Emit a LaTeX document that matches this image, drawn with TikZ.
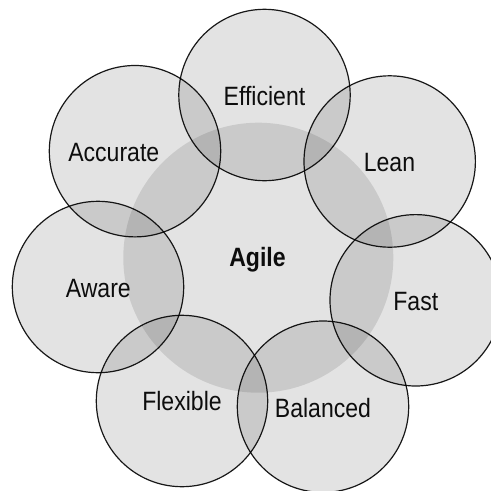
\documentclass[tikz,border=0pt]{standalone}
\usepackage{fontspec}
\setmainfont{Liberation Sans}[FakeStretch=0.87]
\begin{document}
\begin{tikzpicture}[x=1pt,y=-1pt,
  core/.style={circle,fill=black,fill opacity=0.11,draw=none,
    minimum size=270pt,inner sep=0pt},
  petal/.style={circle,fill=black,fill opacity=0.11,draw=black,draw opacity=0.9,
    line width=1.2pt,minimum size=171.4pt,inner sep=0pt},
  lbl/.style={anchor=base,inner sep=0pt,text=black!95,
    font=\fontsize{26.5}{30}\selectfont},
  hub/.style={lbl,font=\fontsize{26.5}{30}\selectfont\bfseries}]
  \useasboundingbox (0,0) rectangle (491,491);
  % central disc
  \node[core] (agile) at (258.3,257.7) {};
  % surrounding circles
  \node[petal] (efficient) at (264.5,95.0) {};
  \node[petal] (lean)      at (389.7,161.5) {};
  \node[petal] (fast)      at (415.7,300.3) {};
  \node[petal] (balanced)  at (323.0,406.7) {};
  \node[petal] (flexible)  at (182.0,401.0) {};
  \node[petal] (aware)     at (98.0,287.0) {};
  \node[petal] (accurate)  at (135.0,151.2) {};
  % labels
  \node[hub] (tagile)     at (257.5,266.0) {Agile};
  \node[lbl] (tefficient) at (264.5,105.5) {Efficient};
  \node[lbl] (tlean)      at (389.5,171.7) {Lean};
  \node[lbl] (tfast)      at (415.8,310.0) {Fast};
  \node[lbl] (tbalanced)  at (323.0,417.3) {Balanced};
  \node[lbl] (tflexible)  at (182.0,410.7) {Flexible};
  \node[lbl] (taware)     at (98.3,297.3) {Aware};
  \node[lbl] (taccurate)  at (113.8,161.7) {Accurate};
\end{tikzpicture}
\end{document}
